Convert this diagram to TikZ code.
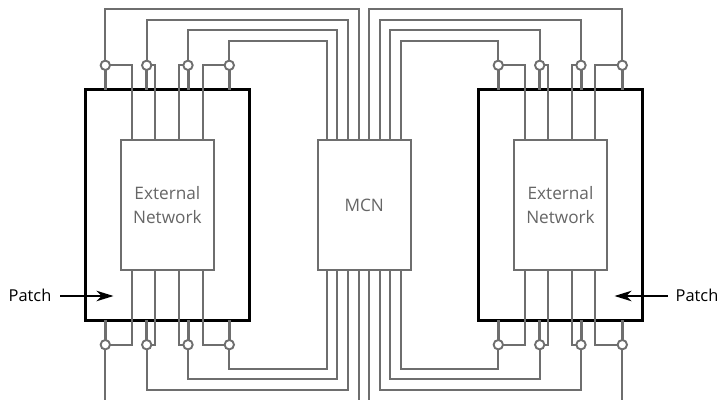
\documentclass[tikz,border=0pt]{standalone}
\usepackage{fontspec}
\setmainfont{Open Sans}
\usetikzlibrary{arrows.meta}
\definecolor{wire}{gray}{0.43}
\definecolor{lbl}{gray}{0.40}
\tikzset{
  wirepath/.style={draw=wire,line width=1.9pt,line join=miter},
  stub/.style={draw=wire,line width=3pt},
  port/.style={circle,draw=wire,fill=white,line width=1.9pt,inner sep=0pt,minimum size=9.4pt},
  patchbox/.style={draw=black,line width=3pt,fill=none,inner sep=0pt},
  netbox/.style={draw=wire,line width=1.9pt,fill=white,inner sep=0pt,text=lbl,align=center,font=\fontsize{17.2}{23.7}\selectfont},
  patchlabel/.style={inner sep=0pt,font=\fontsize{16.4}{19}\selectfont,text=black},
  patcharrow/.style={draw=black,line width=1.6pt,-{Stealth[length=17pt,width=10.5pt,inset=5pt]}},
}
\begin{document}
\begin{tikzpicture}[x=1pt,y=-1pt]
\useasboundingbox (0,0) rectangle (720,399);
% boxes
\node[patchbox,minimum width=164.3pt,minimum height=230.3pt] (patchL) at (167.2,204.85) {};
\node[patchbox,minimum width=164.7pt,minimum height=230.3pt] (patchR) at (560.35,204.85) {};
% ports
\foreach \n/\x in {a/105.3,b/146.7,c/188,d/229.3,e/498.3,f/539.7,g/581,h/622.3}{
  \coordinate (\n p) at (\x,89.7);
  \coordinate (\n q) at (\x,320);
  \draw[stub] (\x,65.3) -- (\n p);
  \draw[stub] (\x,344.7) -- (\n q);
}
% inner boxes
\node[netbox,minimum width=92.7pt,minimum height=129.4pt] (netL) at (167.35,205) {External\\Network};
\node[netbox,minimum width=93pt,minimum height=129.4pt] (mcn) at (364.2,205) {MCN};
\node[netbox,minimum width=93pt,minimum height=129.4pt] (netR) at (560.5,205) {External\\Network};
% wires: box to port (top/bottom)
\foreach \n/\x/\y in {a/132/65.3,b/155.3/65.3,c/179/65.3,d/202.7/65.3,e/524.7/65.3,f/548.3/65.3,g/572/65.3,h/595.3/65.3}{
  \coordinate (\n t) at (\x,140.3);
  \coordinate (\n b) at (\x,269.7);
  \coordinate (\n T) at (\x,65.3);
  \coordinate (\n B) at (\x,344.7);
}
\foreach \n/\x in {a/105.3,b/146.7,c/188,d/229.3,e/498.3,f/539.7,g/581,h/622.3}{
  \coordinate (\n U) at (\x,65.3);
  \coordinate (\n D) at (\x,344.7);
}
\foreach \n in {a,b,c,d,e,f,g,h}{
  \draw[wirepath] (\n U) -- (\n T) -- (\n t);
  \draw[wirepath] (\n D) -- (\n B) -- (\n b);
}
% wires: MCN top
\foreach \n/\x/\y in {d/326.7/41,c/337.3/30.3,b/348/19.7,a/358.7/9,h/369/9,g/379.7/19.7,f/390.3/30.3,e/401/41}{
  \coordinate (m\n) at (\x,140.3);
  \draw[wirepath] (m\n) -- (\x,\y) -| (\n U);
}
% wires: MCN bottom
\foreach \n/\x/\y in {d/326.7/368.7,c/337.3/379.3,b/348/390,g/379.7/390,f/390.3/379.3,e/401/368.7}{
  \coordinate (k\n) at (\x,269.7);
  \draw[wirepath] (k\n) -- (\x,\y) -| (\n D);
}
\coordinate (offa) at (358.7,401);
\coordinate (offh) at (369,401);
\coordinate (offA) at (105.3,401);
\coordinate (offH) at (622.3,401);
\draw[wirepath] (358.7,269.7) -- (offa);
\draw[wirepath] (369,269.7) -- (offh);
\draw[wirepath] (aD) -- (offA);
\draw[wirepath] (hD) -- (offH);
% port circles
\foreach \n in {a,b,c,d,e,f,g,h}{
  \node[port] (\n1) at (\n U) {};
  \node[port] (\n2) at (\n D) {};
}
% labels
\node[patchlabel,anchor=base west] (plL) at (8.5,301.5) {Patch};
\node[patchlabel,anchor=base west] (plR) at (675.5,301.5) {Patch};
\coordinate (atipL) at (113.5,296);
\coordinate (atipR) at (614.5,296);
\coordinate (atailL) at (60,296);
\coordinate (atailR) at (667.7,296);
\draw[patcharrow] (atailL) -- (atipL);
\draw[patcharrow] (atailR) -- (atipR);
\end{tikzpicture}
\end{document}
